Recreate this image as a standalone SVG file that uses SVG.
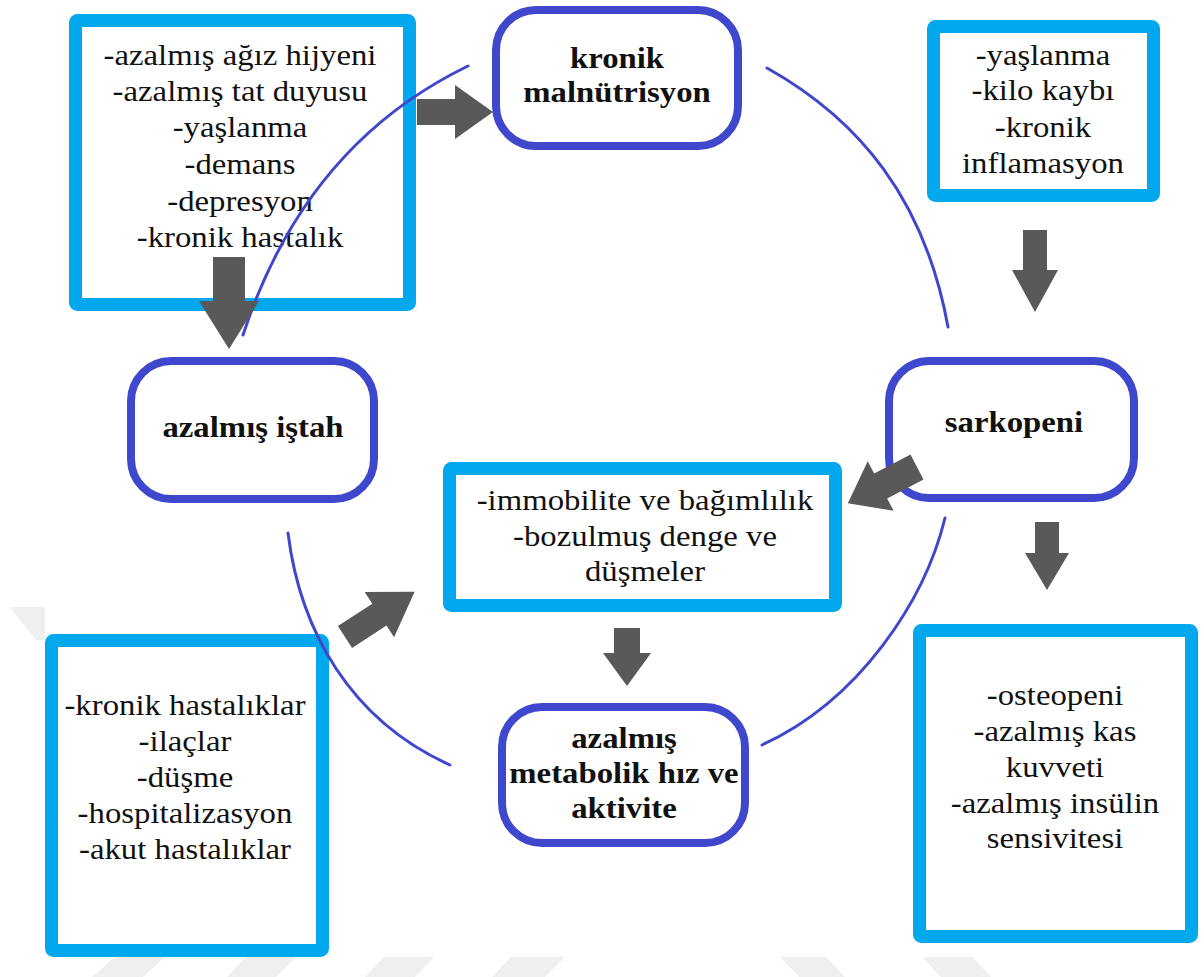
<svg xmlns="http://www.w3.org/2000/svg" width="1204" height="977" viewBox="0 0 1204 977">
<style>
.cyan{fill:#fff;stroke:#02A8EE;stroke-width:13;stroke-linejoin:round}
.blue{fill:#fff;stroke:#3F48CC;stroke-width:8}
.arc{fill:none;stroke:#3F48CC;stroke-width:3;stroke-linecap:round}
.arr{fill:#595959}
.wm{fill:#EFEFEF}
text{font-family:"Liberation Serif","Times New Roman",serif;font-size:29px;fill:#111;text-anchor:middle}
.b{font-weight:bold}
</style>
<rect width="1204" height="977" fill="#fff"/>
<g id="watermark">
<polygon class="wm" points="10,607 45,607 45,640 36,640"/>
<polygon class="wm" points="115,957 165,957 143,977 92,977"/>
<polygon class="wm" points="246,957 296,957 276,977 227,977"/>
<polygon class="wm" points="384,957 434,957 415,977 365,977"/>
<polygon class="wm" points="511,957 565,957 545,977 492,977"/>
<polygon class="wm" points="780,957 826,957 845,977 799,977"/>
<polygon class="wm" points="922,957 972,957 991,977 941,977"/>
</g>
<g id="n-risk1">
<rect class="cyan" x="75.5" y="20.5" width="334" height="284" rx="2"/>
<g transform="translate(240 0) scale(1.13 1)">
<text x="0" y="65">-azalmış ağız hijyeni</text>
<text x="0" y="101">-azalmış tat duyusu</text>
<text x="0" y="137">-yaşlanma</text>
<text x="0" y="174">-demans</text>
<text x="0" y="211">-depresyon</text>
<text x="0" y="247">-kronik hastalık</text>
</g>
</g>
<g id="n-malnutrisyon">
<rect class="blue" x="496" y="10" width="242" height="136" rx="40"/>
<g transform="translate(617 0) scale(1.13 1)">
<text class="b" x="0" y="68">kronik</text>
<text class="b" x="0" y="102">malnütrisyon</text>
</g>
</g>
<g id="n-risk2">
<rect class="cyan" x="933.5" y="26.5" width="220" height="169" rx="2"/>
<g transform="translate(1043 0) scale(1.13 1)">
<text x="0" y="65">-yaşlanma</text>
<text x="0" y="100">-kilo kaybı</text>
<text x="0" y="137">-kronik</text>
<text x="0" y="173">inflamasyon</text>
</g>
</g>
<g id="n-istah">
<rect class="blue" x="131" y="361" width="243" height="138" rx="40"/>
<g transform="translate(253 0) scale(1.13 1)">
<text class="b" x="0" y="437">azalmış iştah</text>
</g>
</g>
<g id="n-sarkopeni">
<rect class="blue" x="889" y="361" width="245" height="137" rx="40"/>
<g transform="translate(1014 0) scale(1.13 1)">
<text class="b" x="0" y="432">sarkopeni</text>
</g>
</g>
<g id="n-immobilite">
<rect class="cyan" x="449.5" y="468.5" width="386" height="137" rx="2"/>
<g transform="translate(645 0) scale(1.13 1)">
<text x="0" y="510">-immobilite ve bağımlılık</text>
<text x="0" y="546">-bozulmuş denge ve</text>
<text x="0" y="581">düşmeler</text>
</g>
</g>
<g id="n-metabolik">
<rect class="blue" x="502" y="707" width="243" height="136" rx="40"/>
<g transform="translate(624 0) scale(1.13 1)">
<text class="b" x="0" y="748">azalmış</text>
<text class="b" x="0" y="783">metabolik hız ve</text>
<text class="b" x="0" y="818">aktivite</text>
</g>
</g>
<g id="n-risk3">
<rect class="cyan" x="51.5" y="640.5" width="271" height="310" rx="2"/>
<g transform="translate(185 0) scale(1.13 1)">
<text x="0" y="715">-kronik hastalıklar</text>
<text x="0" y="751">-ilaçlar</text>
<text x="0" y="787">-düşme</text>
<text x="0" y="823">-hospitalizasyon</text>
<text x="0" y="859">-akut hastalıklar</text>
</g>
</g>
<g id="n-sonuc">
<rect class="cyan" x="919.5" y="630.5" width="272" height="306" rx="2"/>
<g transform="translate(1055 0) scale(1.13 1)">
<text x="0" y="705">-osteopeni</text>
<text x="0" y="741">-azalmış kas</text>
<text x="0" y="777">kuvveti</text>
<text x="0" y="813">-azalmış insülin</text>
<text x="0" y="848">sensivitesi</text>
</g>
</g>
<g id="connectors">
<path class="arc" d="M468,66 Q305,145 243,335"/>
<path class="arc" d="M767,68 C860,120 925,200 948,327"/>
<path class="arc" d="M288,533 C300,630 350,720 450,765"/>
<path class="arc" d="M945,518 C925,600 860,700 762,745"/>
<polygon class="arr" transform="translate(417 112)" points="0,-13 38,-13 38,-27 76,0 38,27 38,13 0,13"/>
<polygon class="arr" transform="translate(229 257) rotate(90)" points="0,-16 44,-16 44,-30 92,0 44,30 44,16 0,16"/>
<polygon class="arr" transform="translate(1035 230) rotate(90)" points="0,-12 40,-12 40,-23 82,0 40,23 40,12 0,12"/>
<polygon class="arr" transform="translate(917 467) rotate(152.4)" points="0,-14 41,-14 41,-28 78,0 41,28 41,14 0,14"/>
<polygon class="arr" transform="translate(1047 522) rotate(90)" points="0,-12 31,-12 31,-22 68,0 31,22 31,12 0,12"/>
<polygon class="arr" transform="translate(345 637) rotate(-33)" points="0,-13 41,-13 41,-27 83,0 41,27 41,13 0,13"/>
<polygon class="arr" transform="translate(627 628) rotate(90)" points="0,-13 25,-13 25,-24 58,0 25,24 25,13 0,13"/>
</g>
</svg>
